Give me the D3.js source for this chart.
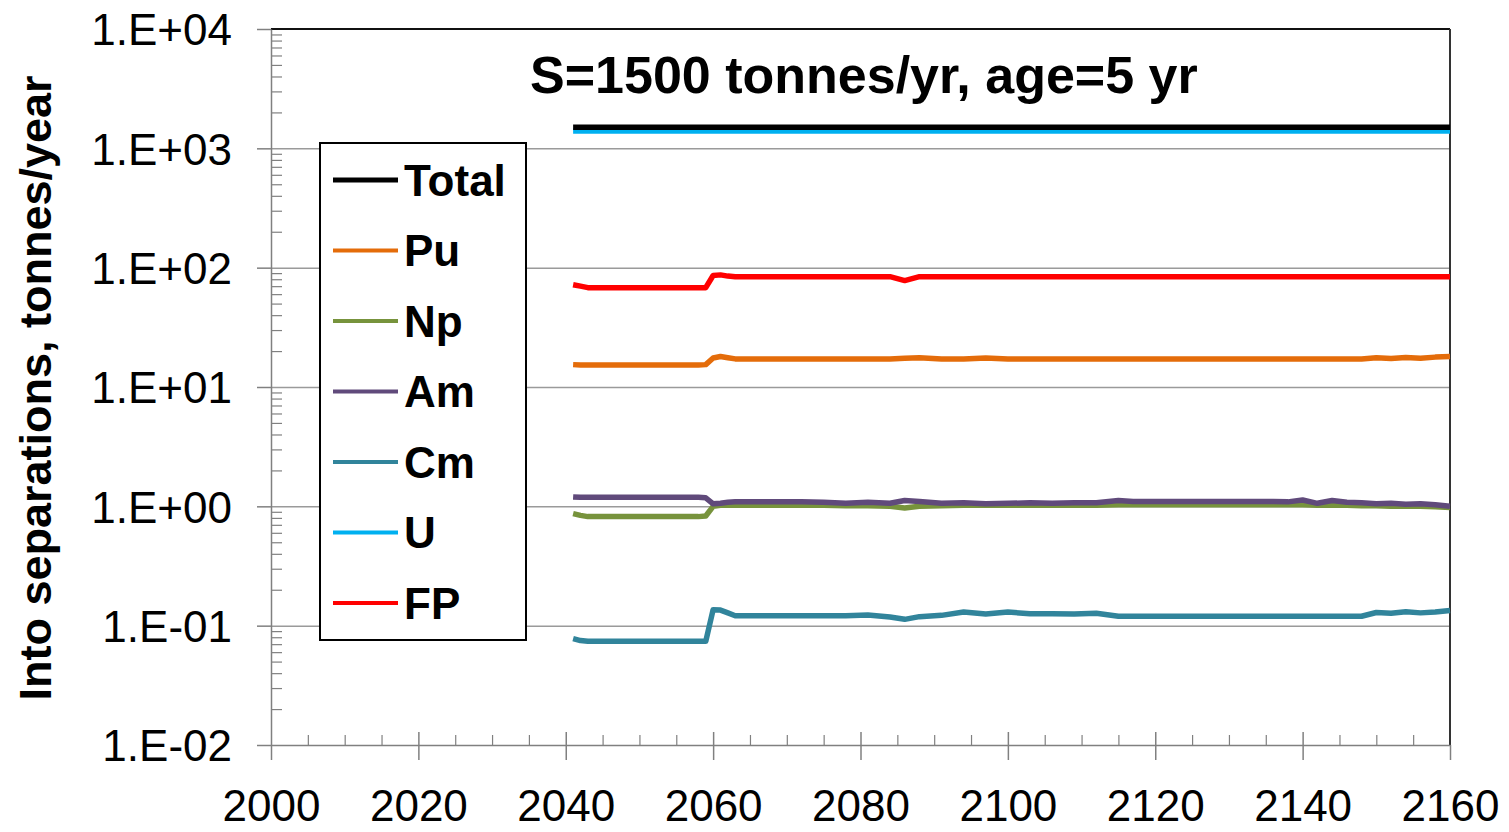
<!DOCTYPE html>
<html>
<head>
<meta charset="utf-8">
<script src="https://cdn.jsdelivr.net/npm/d3@7"></script>
<style>
  html, body { margin: 0; padding: 0; background: #fff; }
  svg { display: block; }
  text { font-family: "Liberation Sans", Arial, sans-serif; }
</style>
</head>
<body>
<svg id="chart" width="1509" height="832"></svg>
<script>
// Sample years (annual output of the separations model, thinned where flat)
const years = [2041, 2042, 2043, 2058, 2059, 2060, 2061, 2062, 2063, 2066,
               2069, 2072, 2075, 2078, 2081, 2084, 2086, 2088, 2091, 2094,
               2097, 2100, 2103, 2106, 2109, 2112, 2115, 2117, 2120, 2124,
               2128, 2132, 2136, 2138, 2140, 2142, 2144, 2146, 2148, 2150,
               2152, 2154, 2156, 2158, 2160];

// Flow into separations, tonnes/year
const totalVals = [1500, 1500, 1500, 1500, 1500, 1500, 1500, 1500, 1500, 1500,
                   1500, 1500, 1500, 1500, 1500, 1500, 1500, 1500, 1500, 1500,
                   1500, 1500, 1500, 1500, 1500, 1500, 1500, 1500, 1500, 1500,
                   1500, 1500, 1500, 1500, 1500, 1500, 1500, 1500, 1500, 1500,
                   1500, 1500, 1500, 1500, 1500];
const puVals = [15.4, 15.3, 15.3, 15.3, 15.4, 17.5, 18.0, 17.6, 17.2, 17.2,
                17.2, 17.2, 17.2, 17.2, 17.2, 17.2, 17.4, 17.6, 17.2, 17.2,
                17.5, 17.2, 17.2, 17.2, 17.2, 17.2, 17.2, 17.2, 17.2, 17.2,
                17.2, 17.2, 17.2, 17.2, 17.2, 17.2, 17.2, 17.2, 17.2, 17.6,
                17.3, 17.7, 17.4, 17.8, 18.0];
const npVals = [0.87, 0.84, 0.82, 0.82, 0.83, 1.00, 1.02, 1.02, 1.02, 1.02,
                1.02, 1.02, 1.02, 1.01, 1.01, 1.00, 0.97, 1.00, 1.01, 1.02,
                1.02, 1.02, 1.02, 1.02, 1.02, 1.02, 1.03, 1.03, 1.03, 1.03,
                1.03, 1.03, 1.03, 1.03, 1.03, 1.02, 1.02, 1.02, 1.01, 1.01,
                1.00, 1.00, 1.00, 0.99, 0.98];
const amVals = [1.20, 1.19, 1.19, 1.19, 1.18, 1.05, 1.06, 1.08, 1.09, 1.09,
                1.09, 1.09, 1.08, 1.06, 1.08, 1.06, 1.12, 1.10, 1.06, 1.07,
                1.05, 1.06, 1.07, 1.06, 1.07, 1.07, 1.12, 1.10, 1.10, 1.10,
                1.10, 1.10, 1.10, 1.09, 1.13, 1.06, 1.12, 1.08, 1.07, 1.05,
                1.06, 1.04, 1.05, 1.03, 1.00];
const cmVals = [0.078, 0.075, 0.074, 0.074, 0.074, 0.136, 0.135, 0.128, 0.121, 0.121,
                0.121, 0.121, 0.121, 0.121, 0.123, 0.118, 0.113, 0.119, 0.122, 0.130,
                0.125, 0.130, 0.126, 0.126, 0.125, 0.127, 0.120, 0.120, 0.120, 0.120,
                0.120, 0.120, 0.120, 0.120, 0.120, 0.120, 0.120, 0.120, 0.120, 0.129,
                0.127, 0.131, 0.128, 0.130, 0.134];
const uVals = [1400, 1400, 1400, 1400, 1400, 1400, 1400, 1400, 1400, 1400,
               1400, 1400, 1400, 1400, 1400, 1400, 1400, 1400, 1400, 1400,
               1400, 1400, 1400, 1400, 1400, 1400, 1400, 1400, 1400, 1400,
               1400, 1400, 1400, 1400, 1400, 1400, 1400, 1400, 1400, 1400,
               1400, 1400, 1400, 1400, 1400];
const fpVals = [72, 70, 68, 68, 68, 86, 87, 85, 84, 84,
                84, 84, 84, 84, 84, 84, 78, 84, 84, 84,
                84, 84, 84, 84, 84, 84, 84, 84, 84, 84,
                84, 84, 84, 84, 84, 84, 84, 84, 84, 84,
                84, 84, 84, 84, 84];

const seriesNames  = ["Total", "Pu", "Np", "Am", "Cm", "U", "FP"];
const seriesColors = ["#000000", "#E46C0A", "#77933C", "#604A7B", "#31849B", "#00B0F0", "#FF0000"];
const seriesValues = [totalVals, puVals, npVals, amVals, cmVals, uVals, fpVals];

const yearTicks = [2000, 2020, 2040, 2060, 2080, 2100, 2120, 2140, 2160];
const decadeExponents = [-2, -1, 0, 1, 2, 3, 4];
const titleText = "S=1500 tonnes/yr, age=5 yr";
const yTitleText = "Into separations, tonnes/year";

// ---- layout ----
const svg = d3.select("#chart");
const plot = { left: 271, right: 1450, top: 29, bottom: 745 };

const x = d3.scaleLinear().domain([2000, 2160]).range([plot.left, plot.right]);
const y = d3.scaleLog().domain([1e-2, 1e4]).range([plot.bottom, plot.top]);

const decades = decadeExponents.map(e => Math.pow(10, e));
const fmtExp = v => {
  const e = Math.round(Math.log10(v));
  return "1.E" + (e < 0 ? "-" : "+") + String(Math.abs(e)).padStart(2, "0");
};
const minorY = [];
decadeExponents.slice(0, -1).forEach(e => {
  for (let m = 2; m <= 9; m++) minorY.push(m * Math.pow(10, e));
});
const minorX = d3.range(2005, 2160, 5).filter(v => v % 20 !== 0);

// gridlines
svg.append("g")
  .attr("transform", `translate(${plot.left},0)`)
  .call(d3.axisLeft(y).tickValues(decades.filter(d => d > 1e-2 && d < 1e4))
        .tickSize(-(plot.right - plot.left)).tickFormat(""))
  .call(g => g.select(".domain").remove())
  .call(g => g.selectAll("line").attr("stroke", "#9a9a9a").attr("stroke-width", 1.5));

// plot frame: top and right
svg.append("line").attr("x1", plot.left).attr("x2", plot.right)
  .attr("y1", plot.top).attr("y2", plot.top)
  .attr("stroke", "#111").attr("stroke-width", 2);
svg.append("line").attr("x1", plot.right).attr("x2", plot.right)
  .attr("y1", plot.top).attr("y2", plot.bottom)
  .attr("stroke", "#333").attr("stroke-width", 2);

// y axis: major ticks outside with labels
svg.append("g")
  .attr("transform", `translate(${plot.left},0)`)
  .call(d3.axisLeft(y).tickValues(decades).tickSize(14).tickSizeOuter(0)
        .tickPadding(25).tickFormat(fmtExp))
  .call(g => g.select(".domain").attr("stroke", "#808080").attr("stroke-width", 1.5))
  .call(g => g.selectAll("line").attr("stroke", "#808080").attr("stroke-width", 1.5))
  .call(g => g.selectAll("text").attr("font-size", 44).attr("fill", "#000")
        .attr("font-family", "Liberation Sans, Arial, sans-serif").attr("dy", "0.36em"));

// y axis: minor ticks inside
svg.append("g")
  .attr("transform", `translate(${plot.left},0)`)
  .call(d3.axisRight(y).tickValues(minorY).tickSize(11).tickSizeOuter(0).tickFormat(""))
  .call(g => g.select(".domain").remove())
  .call(g => g.selectAll("line").attr("stroke", "#808080").attr("stroke-width", 1.2));

// x axis: major ticks crossing the axis, labels below
svg.append("g")
  .attr("transform", `translate(0,${plot.bottom})`)
  .call(d3.axisBottom(x).tickValues(yearTicks).tickSize(15).tickSizeOuter(0)
        .tickPadding(30).tickFormat(d3.format("d")))
  .call(g => g.select(".domain").attr("stroke", "#808080").attr("stroke-width", 1.5))
  .call(g => g.selectAll("line").attr("stroke", "#808080").attr("stroke-width", 1.5))
  .call(g => g.selectAll("text").attr("font-size", 44).attr("fill", "#000")
        .attr("font-family", "Liberation Sans, Arial, sans-serif"));
svg.append("g")
  .attr("transform", `translate(0,${plot.bottom})`)
  .call(d3.axisTop(x).tickValues(yearTicks.filter(v => v > 2000 && v < 2160))
        .tickSize(13).tickFormat(""))
  .call(g => g.select(".domain").remove())
  .call(g => g.selectAll("line").attr("stroke", "#808080").attr("stroke-width", 1.5));
// x axis: minor ticks inside
svg.append("g")
  .attr("transform", `translate(0,${plot.bottom})`)
  .call(d3.axisTop(x).tickValues(minorX).tickSize(10).tickFormat(""))
  .call(g => g.select(".domain").remove())
  .call(g => g.selectAll("line").attr("stroke", "#808080").attr("stroke-width", 1.2));

// series lines
const line = d3.line()
  .x(d => x(d.year))
  .y(d => y(d.value));

const series = seriesNames.map((name, i) => ({
  name,
  color: seriesColors[i],
  points: years.map((yr, j) => ({ year: yr, value: seriesValues[i][j] }))
}));

const drawOrder = ["U", "Total", "FP", "Pu", "Np", "Am", "Cm"];
svg.append("g")
  .selectAll("path")
  .data(drawOrder.map(n => series.find(s => s.name === n)))
  .join("path")
  .attr("d", s => line(s.points))
  .attr("fill", "none")
  .attr("stroke", s => s.color)
  .attr("stroke-width", 5.5)
  .attr("stroke-linejoin", "round")
  .attr("stroke-linecap", "butt");

// title
svg.append("text")
  .attr("x", 530).attr("y", 93)
  .attr("font-size", 52).attr("font-weight", "bold")
  .text(titleText);

// y axis title
svg.append("text")
  .attr("transform", "translate(51,388) rotate(-90)")
  .attr("text-anchor", "middle")
  .attr("font-size", 45).attr("font-weight", "bold")
  .text(yTitleText);

// legend
const legend = svg.append("g");
legend.append("rect")
  .attr("x", 320).attr("y", 143).attr("width", 206).attr("height", 497)
  .attr("fill", "#fff").attr("stroke", "#000").attr("stroke-width", 2);
const items = legend.selectAll("g.item")
  .data(series)
  .join("g")
  .attr("class", "item")
  .attr("transform", (d, i) => `translate(0,${180 + i * 70.5})`);
items.append("line")
  .attr("x1", 333).attr("x2", 398)
  .attr("stroke", d => d.color)
  .attr("stroke-width", d => d.name === "Total" ? 5 : 4);
items.append("text")
  .attr("x", 404).attr("dy", "0.36em")
  .attr("font-size", 44).attr("font-weight", "bold")
  .text(d => d.name);
</script>
</body>
</html>
